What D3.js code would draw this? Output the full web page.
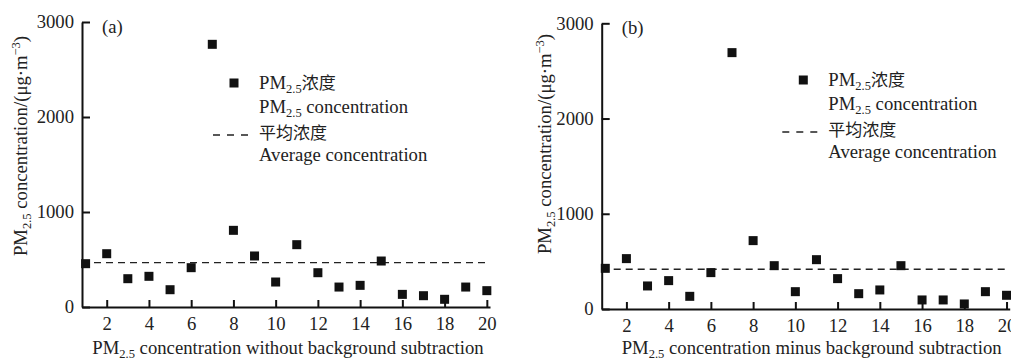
<!DOCTYPE html>
<html>
<head>
<meta charset="utf-8">
<script src="https://cdn.jsdelivr.net/npm/d3@7"></script>
<style>
  body { margin: 0; background: #fff; }
  svg { display: block; }
  text { font-family: "Liberation Serif", "Times New Roman", serif; fill: #222; }
  .cjk { font-family: "Noto Sans CJK SC", sans-serif; font-size: 17px; }
</style>
</head>
<body>
<svg id="chart"></svg>
<script>
const width = 1011, height = 362;

// données
const samples = d3.range(1, 21);
const concA = [456, 561, 298, 323, 182, 414, 2765, 807, 537, 263, 656, 361, 210, 228, 484, 133, 119, 81, 210, 172];
const concB = [427, 529, 242, 298, 133, 382, 2692, 718, 455, 182, 518, 319, 161, 200, 455, 95, 95, 53, 182, 144];
const avgA = 467;
const avgB = 417;
const xTicks = [2, 4, 6, 8, 10, 12, 14, 16, 18, 20];
const yTicks = [0, 1000, 2000, 3000];

const fs = 18.7, fsSub = 12.5;

const svg = d3.select("#chart")
    .attr("width", width)
    .attr("height", height);

// texte "PM2.5" avec indice
function pm(sel, rest, restClass) {
    sel.append("tspan").text("PM");
    sel.append("tspan").attr("font-size", fsSub).attr("dy", 4).text("2.5");
    const r = sel.append("tspan").attr("dy", -4).text(rest);
    if (restClass) r.attr("class", restClass);
    return sel;
}

// un panneau = un nuage de points + ligne moyenne
function drawPanel(p) {
    const x = d3.scaleLinear().domain([0.83, 20.15]).range([p.left, p.right]);
    const y = d3.scaleLinear().domain([0, 3000]).range([p.bottom, p.top]);

    const g = svg.append("g");

    // axe Y
    const ya = g.append("g")
        .attr("transform", `translate(${p.left},0)`)
        .call(d3.axisLeft(y).tickValues(yTicks).tickFormat(d3.format("d"))
            .tickSize(-8).tickSizeOuter(0).tickPadding(8));
    // axe X
    const xa = g.append("g")
        .attr("transform", `translate(0,${p.bottom})`)
        .call(d3.axisBottom(x).tickValues(xTicks).tickFormat(d3.format("d"))
            .tickSize(-7).tickSizeOuter(0).tickPadding(10));

    [ya, xa].forEach(a => {
        a.select(".domain").attr("stroke", "#111").attr("stroke-width", 2);
        a.selectAll(".tick line").attr("stroke", "#111").attr("stroke-width", 2);
        a.selectAll(".tick text")
            .attr("font-size", fs)
            .attr("fill", "#222");
    });

    // ligne de moyenne
    g.append("line")
        .attr("x1", p.left).attr("x2", p.right)
        .attr("y1", y(p.avg)).attr("y2", y(p.avg))
        .attr("stroke", "#222")
        .attr("stroke-width", 1.4)
        .attr("stroke-dasharray", "7,5");

    // points
    const s = 9;
    g.selectAll(".pt")
        .data(p.values)
        .enter().append("rect")
        .attr("class", "pt")
        .attr("x", (d, i) => x(samples[i]) - s / 2)
        .attr("y", d => y(d) - s / 2)
        .attr("width", s)
        .attr("height", s)
        .attr("fill", "#111");

    // étiquette du panneau
    g.append("text")
        .attr("x", p.left + 20)
        .attr("y", p.top + 11)
        .attr("font-size", fs)
        .text(p.label);

    // légende
    const lx = p.legX, ly = p.legY;
    g.append("rect")
        .attr("x", lx - 4.5).attr("y", ly - 4.5)
        .attr("width", 9).attr("height", 9)
        .attr("fill", "#111");
    pm(g.append("text").attr("x", lx + 25).attr("y", ly + 6).attr("font-size", fs), "浓度", "cjk");
    pm(g.append("text").attr("x", lx + 25).attr("y", ly + 30).attr("font-size", fs), " concentration");

    g.append("line")
        .attr("x1", lx - 21).attr("x2", lx + 20)
        .attr("y1", ly + 52).attr("y2", ly + 52)
        .attr("stroke", "#222").attr("stroke-width", 1.4)
        .attr("stroke-dasharray", "7,7");
    g.append("text").attr("class", "cjk")
        .attr("x", lx + 25).attr("y", ly + 56)
        .text("平均浓度");
    g.append("text")
        .attr("x", lx + 25).attr("y", ly + 78)
        .attr("font-size", fs)
        .text("Average concentration");

    // titre axe X
    pm(g.append("text")
        .attr("x", (p.left + p.right) / 2 + p.xTitleShift)
        .attr("y", 354)
        .attr("text-anchor", "middle")
        .attr("font-size", fs), " " + p.xTitle);

    // titre axe Y
    const yt = g.append("text")
        .attr("transform", `translate(${p.yTitleX},${p.yTitleY}) rotate(-90)`)
        .attr("text-anchor", "middle")
        .attr("font-size", fs);
    pm(yt, " concentration/(μg·m");
    yt.append("tspan").attr("font-size", fsSub).attr("dy", -7).text("−3");
    yt.append("tspan").attr("dy", 7).text(")");
}

drawPanel({
    left: 82, right: 490, top: 22, bottom: 307,
    values: concA, avg: avgA, label: "(a)",
    legX: 234, legY: 83,
    xTitle: "concentration without background subtraction", xTitleShift: 2,
    yTitleX: 27, yTitleY: 146
});

drawPanel({
    left: 601.7, right: 1009.7, top: 23.3, bottom: 309,
    values: concB, avg: avgB, label: "(b)",
    legX: 803.3, legY: 80,
    xTitle: "concentration minus background subtraction", xTitleShift: 6,
    yTitleX: 551, yTitleY: 144
});
</script>
</body>
</html>
